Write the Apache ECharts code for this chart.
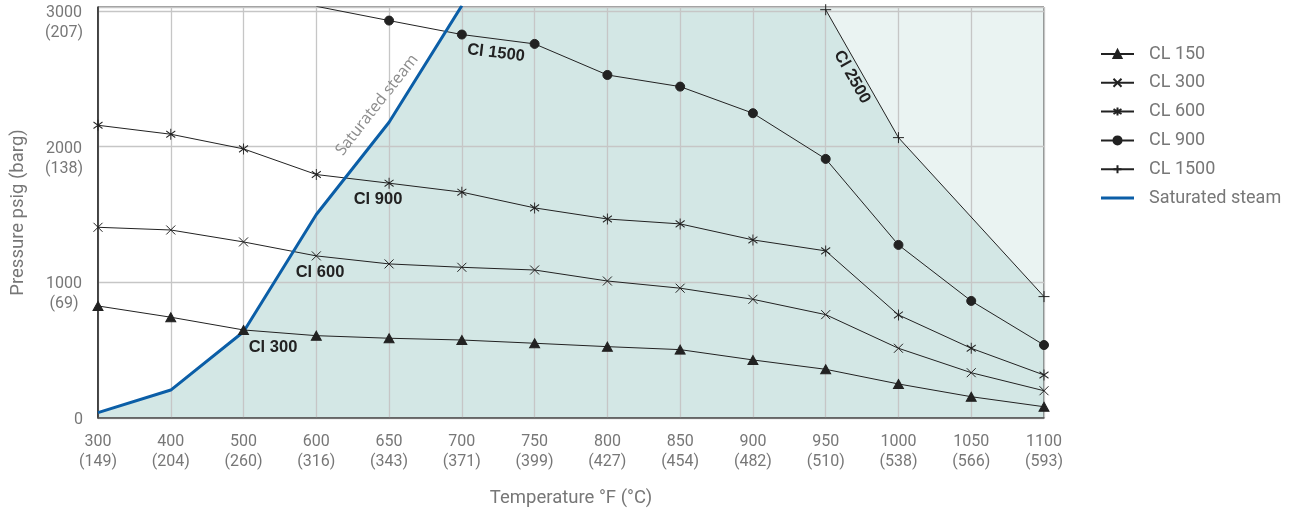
<!DOCTYPE html>
<html><head><meta charset="utf-8">
<script src="https://cdn.jsdelivr.net/npm/echarts@6/dist/echarts.min.js"></script>
<style>html,body{margin:0;padding:0;background:#fff}#c{width:1292px;height:514px}</style>
</head><body><div id="c"></div>
<script>
// ---- data ----
const tempF = ['300','400','500','600','650','700','750','800','850','900','950','1000','1050','1100'];
const tempC = ['149','204','260','316','343','371','399','427','454','482','510','538','566','593'];
const cl150 = [826, 743, 649, 607, 588, 575, 551, 526, 504, 428, 359, 251, 157, 83];
const cl300 = [1406, 1386, 1298, 1195, 1136, 1111, 1091, 1010, 957, 875, 762, 514, 334, 201];
const cl600 = [2158, 2092, 1984, 1795, 1731, 1665, 1549, 1467, 1431, 1313, 1232, 760, 514, 317];
const cl900 = [null, null, null, 3035, 2930, 2827, 2758, 2529, 2443, 2247, 1910, 1276, 863, 538];
const cl1500 = [null, null, null, null, null, null, null, null, null, null, 3010, 2067, null, 895];
const steam = [40, 206, 636, 1500, 2180, 3040, null, null, null, null, null, null, null, null];
const yTicks = [0, 1000, 2000, 3000];
const yTicksBar = ['', '(69)', '(138)', '(207)'];
const yMax = 3030;
const legendNames = ['CL 150', 'CL 300', 'CL 600', 'CL 900', 'CL 1500', 'Saturated steam'];
const notes = [
  {text: 'Cl 300', x: 273, y: 347, r: 0},
  {text: 'Cl 600', x: 320, y: 272, r: 0},
  {text: 'Cl 900', x: 378, y: 199, r: 0},
  {text: 'Cl 1500', x: 496, y: 53, r: -7},
  {text: 'Cl 2500', x: 852, y: 77, r: -60.6}
];

// ---- chart ----
const chart = echarts.init(document.getElementById('c'), null, {renderer: 'canvas'});
const INK = '#222';
const GREY = '#777';
const FONT = 'Roboto';
const STEAM = '#0b5ea7';

function shadeRender(params, api) {
  const cs = params.coordSys;
  const pt = (i, v) => api.coord([i, v]);
  const hi = cl1500.map((v, i) => v == null ? -1 : i).filter(i => i >= 0);
  const first = hi[0], last = hi[hi.length - 1];
  const dark = [];
  steam.forEach((v, i) => { if (v != null) dark.push(pt(i, v)); });
  dark.push(pt(first, yMax));
  hi.forEach(i => dark.push(pt(i, cl1500[i])));
  dark.push(pt(last, 0));
  dark.push(pt(0, 0));
  const light = [pt(first, yMax)];
  hi.forEach(i => light.push(pt(i, cl1500[i])));
  light.push(pt(last, yMax));
  return {
    type: 'group',
    clipPath: {type: 'rect', shape: {x: cs.x, y: cs.y, width: cs.width, height: cs.height}},
    children: [
      {type: 'polygon', shape: {points: dark}, style: {fill: '#d3e7e5'}},
      {type: 'polygon', shape: {points: light}, style: {fill: '#eaf3f2'}}
    ]
  };
}

function lineSeries(name, data, symbol, size) {
  return {
    name, type: 'line', data, symbol, symbolSize: size, connectNulls: true, z: 3,
    showAllSymbol: true,
    lineStyle: {color: INK, width: 1},
    itemStyle: {color: INK, borderColor: INK, borderWidth: 1},
    emphasis: {disabled: true}
  };
}

const option = {
  animation: false,
  backgroundColor: '#fff',
  grid: {left: 98, right: 248, top: 7, bottom: 96, show: true, borderColor: '#333', borderWidth: 1, z: 2,
    containLabel: false, outerBoundsMode: 'none'},
  legend: {
    orient: 'vertical', left: 1095, top: 40, itemWidth: 33, itemHeight: 10, itemGap: 10.8,
    data: legendNames.map(n => n === 'Saturated steam'
      ? {name: n, icon: 'path://M0,0H33V3H0Z', itemStyle: {color: STEAM}}
      : {name: n}),
    selectedMode: false, symbolKeepAspect: true,
    textStyle: {color: GREY, fontSize: 18, fontFamily: FONT, padding: [0, 0, 0, 10]}
  },
  xAxis: {
    type: 'category', data: tempF, boundaryGap: false, z: 2,
    axisLine: {show: true, lineStyle: {color: '#555', width: 1.5}},
    axisTick: {show: false},
    splitLine: {show: true, lineStyle: {color: '#c6c6c6', width: 1.3}},
    axisLabel: {
      interval: 0, color: GREY, fontSize: 16, fontFamily: FONT, lineHeight: 20, margin: 14,
      formatter: (v, i) => v + '\n(' + tempC[i] + ')'
    },
    name: 'Temperature °F (°C)', nameLocation: 'middle', nameGap: 71,
    nameTextStyle: {color: GREY, fontSize: 18.5, fontFamily: FONT}
  },
  yAxis: {
    type: 'value', min: 0, max: yMax, interval: 1000, z: 2,
    axisLine: {show: true, lineStyle: {color: '#222', width: 1.5}},
    axisTick: {show: false},
    splitLine: {show: true, lineStyle: {color: '#c6c6c6', width: 1.3}},
    axisLabel: {
      color: GREY, fontSize: 16, fontFamily: FONT, lineHeight: 20, margin: 15, padding: [24, 0, 0, 0],
      formatter: v => {
        const k = yTicks.indexOf(v);
        if (k < 0) return '';
        if (!yTicksBar[k]) return '{z|' + v + '}\n';
        return '{a|' + v + '}\n{a|' + yTicksBar[k] + '}';
      },
      rich: {
        a: {width: 38, align: 'center', color: GREY, fontSize: 16, fontFamily: FONT, lineHeight: 20},
        z: {color: GREY, fontSize: 16, fontFamily: FONT, lineHeight: 20}
      }
    },
    name: 'Pressure psig (barg)', nameLocation: 'middle', nameGap: 70,
    nameTextStyle: {color: GREY, fontSize: 18.5, fontFamily: FONT}
  },
  series: [
    {type: 'custom', name: 'shade', data: [0], renderItem: shadeRender, z: 1, silent: true},
    lineSeries('CL 150', cl150, 'triangle', [10, 9]),
    lineSeries('CL 300', cl300, 'path://M0,0L10,10M10,0L0,10', 9),
    lineSeries('CL 600', cl600, 'path://M1,2L9,8M9,2L1,8M5,0L5,10', [9, 11]),
    lineSeries('CL 900', cl900, 'circle', 9),
    lineSeries('CL 1500', cl1500, 'path://M0,5L10,5M5,0L5,10', 11),
    {
      name: 'Saturated steam', type: 'line', data: steam, symbol: 'none', z: 3,
      lineStyle: {color: STEAM, width: 3}, itemStyle: {color: STEAM},
      emphasis: {disabled: true}
    }
  ],
  graphic: notes.map(n => ({
    type: 'text', x: n.x, y: n.y, rotation: n.r * Math.PI / 180, z: 10,
    style: {text: n.text, font: 'bold 16.5px "Liberation Sans", Arial, sans-serif', fill: INK,
      align: 'center', verticalAlign: 'middle', textAlign: 'center', textVerticalAlign: 'middle'}
  })).concat([{
    type: 'text', x: 377, y: 105, rotation: 52 * Math.PI / 180, z: 10,
    style: {text: 'Saturated steam', font: '16px "Open Sans", sans-serif', fill: '#8c8c8c',
      align: 'center', verticalAlign: 'middle', textAlign: 'center', textVerticalAlign: 'middle'}
  }])
};
chart.setOption(option);
</script></body></html>
